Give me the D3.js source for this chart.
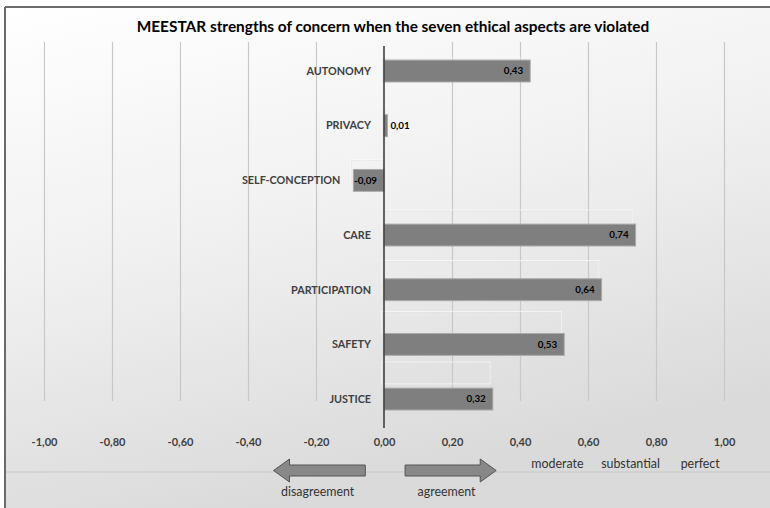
<!DOCTYPE html>
<html><head><meta charset="utf-8">
<script src="https://cdn.jsdelivr.net/npm/d3@7"></script>
<style>
html,body{margin:0;padding:0;background:#fff;}
svg{display:block;}
text{font-family:Lato,"Open Sans",sans-serif;}
</style></head>
<body>
<svg id="chart" width="770" height="508"></svg>
<script>
const title = "MEESTAR strengths of concern when the seven ethical aspects are violated";
const categories = ["AUTONOMY","PRIVACY","SELF-CONCEPTION","CARE","PARTICIPATION","SAFETY","JUSTICE"];
const values = [0.43, 0.01, -0.09, 0.74, 0.64, 0.53, 0.32];
const tickValues = [-1, -0.8, -0.6, -0.4, -0.2, 0, 0.2, 0.4, 0.6, 0.8, 1];
const levelLabels = ["moderate", "substantial", "perfect"];
const levelAnchors = [0.51, 0.725, 0.93];
const directionLabels = ["disagreement", "agreement"];

const svg = d3.select("#chart");
const W = 770, H = 508;

const defs = svg.append("defs");
const bg = defs.append("linearGradient").attr("id","bg")
  .attr("x1","0").attr("y1","0").attr("x2","0.35").attr("y2","1");
bg.append("stop").attr("offset","0").attr("stop-color","#ffffff");
bg.append("stop").attr("offset","0.5").attr("stop-color","#f0f0f0");
bg.append("stop").attr("offset","1").attr("stop-color","#dadada");

const gl = defs.append("linearGradient").attr("id","grid")
  .attr("gradientUnits","userSpaceOnUse")
  .attr("x1",0).attr("y1",42).attr("x2",0).attr("y2",401);
gl.append("stop").attr("offset","0").attr("stop-color","#c8c8c8");
gl.append("stop").attr("offset","1").attr("stop-color","#666666");

svg.append("rect").attr("x",5).attr("y",7).attr("width",W-5).attr("height",H-7).attr("fill","url(#bg)");
svg.append("line").attr("x1",5).attr("x2",W).attr("y1",7).attr("y2",7).attr("stroke","#3a3a3a").attr("stroke-width",1.5);
svg.append("line").attr("x1",5).attr("x2",5).attr("y1",7).attr("y2",H).attr("stroke","#6a6a6a").attr("stroke-width",2);

// separator line
svg.append("line").attr("x1",6).attr("x2",W).attr("y1",472).attr("y2",472).attr("stroke","#c9c9c9").attr("stroke-width",1);

const x = d3.scaleLinear().domain([-1, 1]).range([44, 724]);
const y = d3.scaleBand().domain(categories).range([43.7, 426.4]).paddingInner(0.6).paddingOuter(0.3);

// title
svg.append("text").attr("x", 393).attr("y", 31.5).attr("text-anchor","middle")
  .attr("font-size", 15.4).attr("font-weight", 700).attr("fill","#000").text(title);

// gridlines via axis
const gridG = svg.append("g").attr("transform","translate(0,401)")
  .call(d3.axisBottom(x).tickValues(tickValues.filter(d => d !== 0)).tickSize(-359).tickFormat(""));
gridG.select(".domain").remove();
gridG.selectAll(".tick line").attr("stroke","url(#grid)").attr("stroke-width",1.2);

// tick labels
const fmt = d => d3.format(".2f")(d).replace(".", ",").replace("\u2212", "-");
const axisG = svg.append("g").attr("transform","translate(0,438)")
  .call(d3.axisBottom(x).tickValues(tickValues).tickSize(0).tickPadding(0).tickFormat(fmt));
axisG.select(".domain").remove();
axisG.selectAll("text").attr("font-size", 11).attr("font-weight", 700).attr("fill","#404040")
  .attr("font-family","Lato, sans-serif");

// ghost rectangles (reflection artefacts)
svg.append("g").selectAll("rect").data(values).join("rect")
  .attr("x", d => Math.min(x(d), x(0)) - 2.5)
  .attr("y", (d, i) => y(categories[i]) - (2 + 4 * i))
  .attr("width", d => Math.abs(x(d) - x(0)))
  .attr("height", y.bandwidth())
  .attr("fill","none").attr("stroke","#ffffff").attr("stroke-opacity",0.7).attr("stroke-width",1);
svg.append("g").selectAll("rect").data(values).join("rect")
  .attr("x", d => Math.min(x(d), x(0)) - 2)
  .attr("y", (d, i) => y(categories[i]) - (2 + 4 * i) + 0.8)
  .attr("width", d => Math.abs(x(d) - x(0)))
  .attr("height", y.bandwidth())
  .attr("fill","none").attr("stroke","#dedede").attr("stroke-opacity",0.5).attr("stroke-width",0.8);

// bars
svg.append("g").selectAll("rect").data(values).join("rect")
  .attr("x", d => Math.min(x(d), x(0)))
  .attr("y", (d, i) => y(categories[i]))
  .attr("width", d => Math.abs(x(d) - x(0)))
  .attr("height", y.bandwidth())
  .attr("fill","#7f7f7f").attr("stroke","#a9a9a9").attr("stroke-width",1);

// zero line
svg.append("line").attr("x1", x(0)).attr("x2", x(0)).attr("y1", 46).attr("y2", 428)
  .attr("stroke","#404040").attr("stroke-width",1.6);

// category labels (placed left of the bar's lower end)
svg.append("g").selectAll("text").data(categories).join("text")
  .attr("x", (d, i) => Math.min(x(values[i]), x(0)) - 13)
  .attr("y", d => y(d) + y.bandwidth()/2)
  .attr("dy","0.35em").attr("text-anchor","end")
  .attr("font-size", 10.8).attr("font-weight", 700).attr("fill","#404040").text(d => d);

// value labels
svg.append("g").selectAll("text").data(values).join("text")
  .attr("x", d => Math.abs(x(d) - x(0)) > 28 ? Math.max(x(d), x(0)) - 7 : x(d) + 3)
  .attr("y", (d, i) => y(categories[i]) + y.bandwidth()/2)
  .attr("dy","0.35em")
  .attr("text-anchor", d => Math.abs(x(d) - x(0)) > 28 ? "end" : "start")
  .attr("font-size", 9.8).attr("font-weight", 700).attr("fill","#000").text(fmt);

// level labels
svg.append("g").selectAll("text").data(levelLabels).join("text")
  .attr("x", (d, i) => x(levelAnchors[i])).attr("y", 464).attr("dy","0.35em")
  .attr("text-anchor","middle").attr("font-size", 12.4).attr("font-weight", 400)
  .attr("fill","#333").text(d => d);

// arrows
function arrowPath(x0, x1, yc) {
  const dir = Math.sign(x1 - x0), head = 16, bh = 5.5, hh = 11.5;
  const hb = x1 - dir * head;
  return `M${x0},${yc-bh} L${hb},${yc-bh} L${hb},${yc-hh} L${x1},${yc} L${hb},${yc+hh} L${hb},${yc+bh} L${x0},${yc+bh} Z`;
}
const arrowG = svg.append("g");
arrowG.append("path").attr("d", arrowPath(x(-0.055), x(-0.325), 470.5))
  .attr("fill","#888").attr("stroke","#555").attr("stroke-width",1);
arrowG.append("path").attr("d", arrowPath(x(0.062), x(0.33), 470.5))
  .attr("fill","#888").attr("stroke","#555").attr("stroke-width",1);

svg.append("g").selectAll("text").data(directionLabels).join("text")
  .attr("x", (d, i) => i === 0 ? x(-0.195) : x(0.184)).attr("y", 491.5).attr("dy","0.35em")
  .attr("text-anchor","middle").attr("font-size", 12.4).attr("font-weight", 400)
  .attr("fill","#333").text(d => d);
</script>
</body></html>
